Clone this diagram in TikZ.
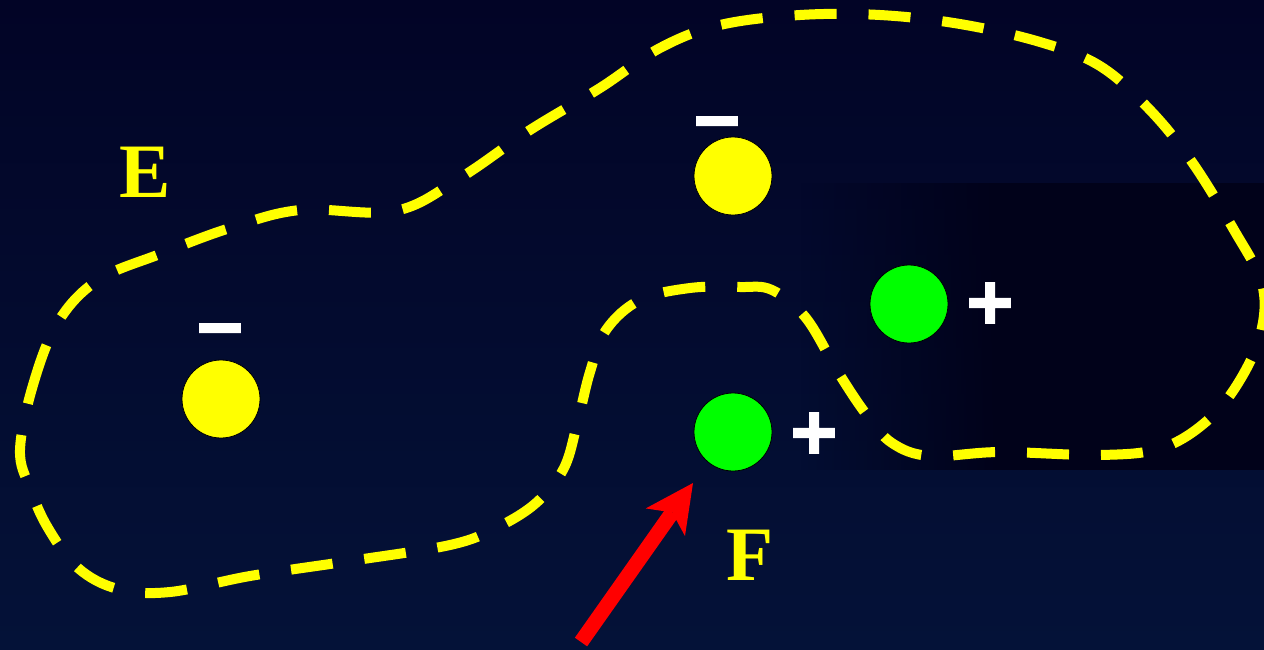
\documentclass[tikz,border=0pt]{standalone}
\usepackage{fontspec}
\setmainfont{Liberation Serif}
\newfontfamily\signfont{DejaVu Sans}[FakeBold=9]
\usetikzlibrary{arrows.meta,fadings}
\definecolor{bgtop}{HTML}{020426}
\definecolor{bgbot}{HTML}{041238}
\definecolor{bgdark}{HTML}{01021A}
\definecolor{ayellow}{HTML}{FFFF00}
\definecolor{agreen}{HTML}{00FF00}
\definecolor{ared}{HTML}{FF0000}
\tikzset{
  negball/.style={circle, minimum size=78pt, inner sep=0pt, fill=ayellow, draw=black, line width=0.8pt},
  posball/.style={circle, minimum size=78pt, inner sep=0pt, fill=agreen, draw=black, line width=0.8pt},
  signtext/.style={text=white, inner sep=0pt, font=\signfont\fontsize{58}{60}\selectfont},
  lettertext/.style={text=ayellow, inner sep=0pt, font=\bfseries\fontsize{77}{80}\selectfont},
  boundary/.style={draw=ayellow, line width=10pt, dash pattern=on 42pt off 32pt},
  redarrow/.style={draw=ared, line width=15pt, -{Stealth[length=48pt,width=48pt,inset=12pt,line width=0pt]}}
}
\begin{document}
\begin{tikzpicture}[x=1pt,y=-1pt]
\useasboundingbox (0,0) rectangle (1264,649);
\shade[top color=bgtop, bottom color=bgbot] (0,0) rectangle (1264,649);
\fill[bgdark, path fading=west] (800,183) rectangle (1000,470);
\fill[bgdark] (999,183) rectangle (1264,470);

% dashed region boundary
\draw[boundary] plot[smooth cycle, tension=0.6] coordinates {
 (20,450) (33,385) (58,322) (98,280) (160,254) (230,228) (300,210) (395,211)
 (460,178) (530,130) (600,88) (660,48) (720,25) (800,15) (880,15) (960,24)
 (1040,42) (1100,66) (1150,110) (1192,162) (1234,230) (1262,284) (1261,332)
 (1240,380) (1208,420) (1162,448) (1100,455) (1000,452) (930,456) (892,443)
 (866,414) (838,372) (806,318) (772,290) (740,287) (690,288) (640,300)
 (606,330) (590,372) (578,420) (564,468) (536,503) (496,528) (450,545)
 (350,561) (250,576) (170,592) (118,589) (78,568) (48,528) (30,488)};

% charges
\node[negball] (n1) at (221,399) {};
\node[negball] (n2) at (733,176) {};
\node[posball] (p1) at (909,304) {};
\node[posball] (p2) at (733,432) {};

\node[signtext] (m1) at (220,336) {−};
\node[signtext] (m2) at (717,129) {−};
\node[signtext] (s1) at (990,303) {+};
\node[signtext] (s2) at (814,433) {+};

% labels
\node[lettertext] (E) at (145,172) {E};
\node[lettertext] (F) at (750,555) {F};

% arrow
\coordinate (atail) at (581,642);
\coordinate (atip) at (693,483);
\draw[redarrow] (atail) -- (atip);
\end{tikzpicture}
\end{document}
